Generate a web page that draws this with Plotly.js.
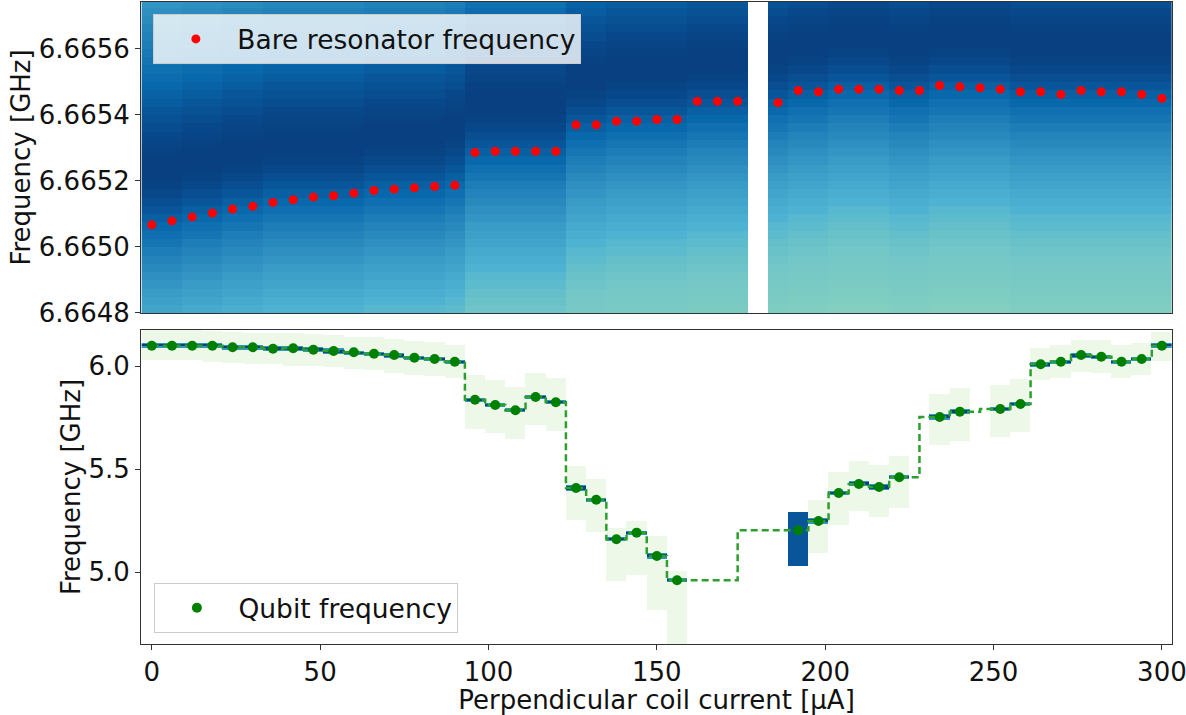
<!DOCTYPE html>
<html><head><meta charset="utf-8">
<script src="https://cdn.plot.ly/plotly-3.0.1.min.js"></script>
<style>html,body{margin:0;padding:0;background:#fff}#chart{width:1186px;height:715px}</style>
</head><body><div id="chart"></div>
<script>
// ---------- data ----------
const columns = [0,6,12,18,24,30,36,42,48,54,60,66,72,78,84,90,96,102,108,114,120,126,132,138,144,150,156,162,168,174,180,186,192,198,204,210,216,222,228,234,240,246,252,258,264,270,276,282,288,294,300];

const resonatorX = [0,6,12,18,24,30,36,42,48,54,60,66,72,78,84,90,96,102,108,114,120,126,132,138,144,150,156,162,168,174,186,192,198,204,210,216,222,228,234,240,246,252,258,264,270,276,282,288,294,300];
const resonatorFreq = [6.665067,6.665079,6.665091,6.665103,6.665115,6.665123,6.665135,6.665143,6.665151,6.665155,6.665163,6.665171,6.665175,6.665179,6.665183,6.665187,
  6.665286,6.665290,6.665290,6.665290,6.665290,
  6.665370,6.665370,6.665381,6.665381,6.665386,6.665386,
  6.665441,6.665441,6.665441,
  6.665437,6.665474,6.665470,6.665478,6.665478,6.665478,6.665474,6.665474,6.665489,6.665485,6.665482,6.665478,6.665470,6.665470,6.665462,6.665474,6.665470,6.665470,6.665462,6.665450];

// centre of the dark transmission band in each column of the top map (null = no data)
const bandCenter = [6.66523,6.66524,6.66525,6.66526,6.66528,6.66528,6.66530,6.66530,6.66531,6.66532,6.66532,6.66533,6.66534,6.66534,6.66534,6.66535,
  6.66545,6.66545,6.66545,6.66545,6.66545,
  6.66552,6.66552,6.66553,6.66553,6.66553,6.66553,
  6.66557,6.66557,6.66557,
  null,
  6.66558,6.66562,6.66562,6.66563,6.66563,6.66563,6.66562,6.66562,6.66564,6.66563,6.66563,6.66563,6.66562,6.66562,6.66561,6.66562,6.66562,6.66562,6.66561,6.66560];
// band level vs row offset from the centre (offsets -34 .. +20)
const bandProfile = [0.00,0.00,0.02,0.03,0.04,0.05,0.06,0.07,0.08,0.10,0.12,0.15,0.18,0.21,0.25,0.28,0.31,0.34,0.37,0.40,0.44,0.48,0.52,0.56,0.60,0.65,0.70,0.75,0.80,0.86,0.91,0.95,0.98,1.00,
  1.00,1.00,0.99,0.97,0.95,0.92,0.89,0.86,0.82,0.79,0.75,0.72,0.69,0.66,0.63,0.60,0.57,0.54,0.51,0.48,0.45];
const bandProfileStart = -34;
const topRowStart = 6.6648125, topRowStep = 0.000025, topRowCount = 38;

const qubitX = [0,6,12,18,24,30,36,42,48,54,60,66,72,78,84,90,96,102,108,114,120,126,132,138,144,150,156,192,198,204,210,216,222,234,240,252,258,264,270,276,282,288,294,300];
const qubitFreq = [6.0985,6.0985,6.0985,6.0985,6.0908,6.0908,6.084,6.086,6.079,6.0728,6.0665,6.0597,6.0534,6.0403,6.034,6.0209,
  5.8364,5.8107,5.785,5.8495,5.8237,5.4078,5.351,5.159,5.191,5.078,4.960,
  5.2024,5.2476,5.3835,5.4272,5.4126,5.4597,5.7524,5.7782,5.7913,5.8155,
  6.0083,6.0209,6.0534,6.0451,6.0209,6.034,6.0985];
const scanLo = [6.028,6.028,6.028,6.018,6.016,6.011,6.009,6.000,5.998,5.994,5.984,5.980,5.966,5.955,5.952,5.942,
  5.696,5.675,5.647,5.715,5.686,5.249,5.194,4.955,4.987,4.817,4.600,
  5.031,5.091,5.232,5.293,5.264,5.309,5.613,5.636,5.654,5.681,
  5.932,5.940,5.972,5.967,5.940,5.953,6.024];
const scanHi = [6.180,6.180,6.180,6.170,6.165,6.162,6.160,6.158,6.155,6.148,6.142,6.138,6.130,6.120,6.116,6.100,
  5.955,5.929,5.901,5.966,5.942,5.513,5.448,5.214,5.246,5.173,5.006,
  5.288,5.349,5.487,5.539,5.519,5.565,5.863,5.897,5.908,5.937,
  6.086,6.102,6.126,6.126,6.102,6.110,6.167];
const saturatedCols = [192];
const botRowStart = 4.6525, botRowStep = 0.005, botRowCount = 305;

// ---------- build heatmap tables ----------
const topY = [], topZ = [];
for (let i = 0; i < topRowCount; i++) topY.push(topRowStart + i * topRowStep);
for (let i = 0; i < topRowCount; i++) {
  const row = [];
  for (let j = 0; j < columns.length; j++) {
    const c = bandCenter[j];
    if (c === null) { row.push(null); continue; }
    const ci = Math.round((c - topRowStart) / topRowStep);
    let k = i - ci - bandProfileStart;
    k = Math.max(0, Math.min(bandProfile.length - 1, k));
    row.push(bandProfile[k]);
  }
  topZ.push(row);
}

const botY = [], botZ = [];
for (let i = 0; i < botRowCount; i++) botY.push(botRowStart + i * botRowStep);
for (let i = 0; i < botRowCount; i++) {
  const f = botY[i];
  const row = [];
  for (let j = 0; j < columns.length; j++) {
    const k = qubitX.indexOf(columns[j]);
    if (k < 0 || f < scanLo[k] || f > scanHi[k]) { row.push(null); continue; }
    if (saturatedCols.indexOf(columns[j]) >= 0) { row.push(0.93); continue; }
    const d = Math.abs(f - qubitFreq[k]);
    row.push(d <= 0.006 ? 1.0 : (d <= 0.011 ? 0.72 : 0.05));
  }
  botZ.push(row);
}

const FONT = 'DejaVu Sans, Arial, sans-serif';
const topScale = [[0,'#84d0c0'],[0.25,'#4eb3d3'],[0.5,'#2b8cbe'],[0.75,'#0868ac'],[1,'#084081']];
const gnbu = [[0,'#f7fcf0'],[0.125,'#e0f3db'],[0.25,'#ccebc5'],[0.375,'#a8ddb5'],[0.5,'#7bccc4'],[0.625,'#4eb3d3'],[0.75,'#2b8cbe'],[0.875,'#0868ac'],[1,'#084081']];

const traces = [
  {type:'heatmap', x:columns, y:topY, z:topZ, colorscale:topScale, zmin:0, zmax:1, showscale:false, hoverinfo:'skip', xaxis:'x', yaxis:'y'},
  {type:'scatter', mode:'markers', x:resonatorX, y:resonatorFreq, name:'Bare resonator frequency',
   marker:{color:'#ff0000', size:9}, xaxis:'x', yaxis:'y', legend:'legend'},
  {type:'heatmap', x:columns, y:botY, z:botZ, colorscale:gnbu, zmin:0, zmax:1, showscale:false, hoverinfo:'skip', xaxis:'x2', yaxis:'y2'},
  {type:'scatter', mode:'lines', x:qubitX, y:qubitFreq, showlegend:false,
   line:{color:'#2ca02c', width:2.5, dash:'7px,4px', shape:'hvh'}, xaxis:'x2', yaxis:'y2'},
  {type:'scatter', mode:'markers', x:qubitX, y:qubitFreq, name:'Qubit frequency',
   marker:{color:'#008000', size:10}, xaxis:'x2', yaxis:'y2', legend:'legend2'}
];

const axisCommon = {showgrid:false, zeroline:false, showline:true, mirror:true, linecolor:'#333', linewidth:1,
  ticks:'outside', ticklen:5, tickwidth:1, tickcolor:'#333', ticklabeloverflow:'allow',
  tickfont:{family:FONT, size:26, color:'#111'}};

const layout = {
  width:1186, height:715,
  margin:{l:141, r:14, t:2, b:71},
  paper_bgcolor:'#ffffff', plot_bgcolor:'#ffffff',
  font:{family:FONT, size:26, color:'#111'},
  xaxis: Object.assign({}, axisCommon, {range:[-3.2,303], domain:[0,1], anchor:'y', showticklabels:false, ticks:''}),
  yaxis: Object.assign({}, axisCommon, {range:[6.6648,6.665742], domain:[0.5156,1], anchor:'x',
    tickvals:[6.6648,6.665,6.6652,6.6654,6.6656], ticktext:['6.6648','6.6650','6.6652','6.6654','6.6656'],
    title:{text:'Frequency [GHz]', font:{family:FONT, size:26, color:'#111'}, standoff:0}}),
  xaxis2: Object.assign({}, axisCommon, {range:[-3.2,303], domain:[0,1], anchor:'y2', matches:'x',
    tickvals:[0,50,100,150,200,250,300],
    title:{text:'Perpendicular coil current [µA]', font:{family:FONT, size:26, color:'#111'}, standoff:4}}),
  yaxis2: Object.assign({}, axisCommon, {range:[4.6505,6.1748], domain:[0,0.4891], anchor:'x2',
    tickvals:[5.0,5.5,6.0], ticktext:['5.0','5.5','6.0'],
    title:{text:'Frequency [GHz]', font:{family:FONT, size:26, color:'#111'}, standoff:0}}),
  legend:{x:0.012, y:0.981, xanchor:'left', yanchor:'top', bgcolor:'rgba(255,255,255,0.8)', bordercolor:'#cccccc', borderwidth:1,
    font:{family:FONT, size:26.5, color:'#111'}, itemwidth:73},
  legend2:{x:0.013, y:0.017, xanchor:'left', yanchor:'bottom', bgcolor:'rgba(255,255,255,0.8)', bordercolor:'#cccccc', borderwidth:1,
    font:{family:FONT, size:26.5, color:'#111'}, itemwidth:73}
};

Plotly.newPlot('chart', traces, layout, {displayModeBar:false, staticPlot:true});
</script>
</body></html>
